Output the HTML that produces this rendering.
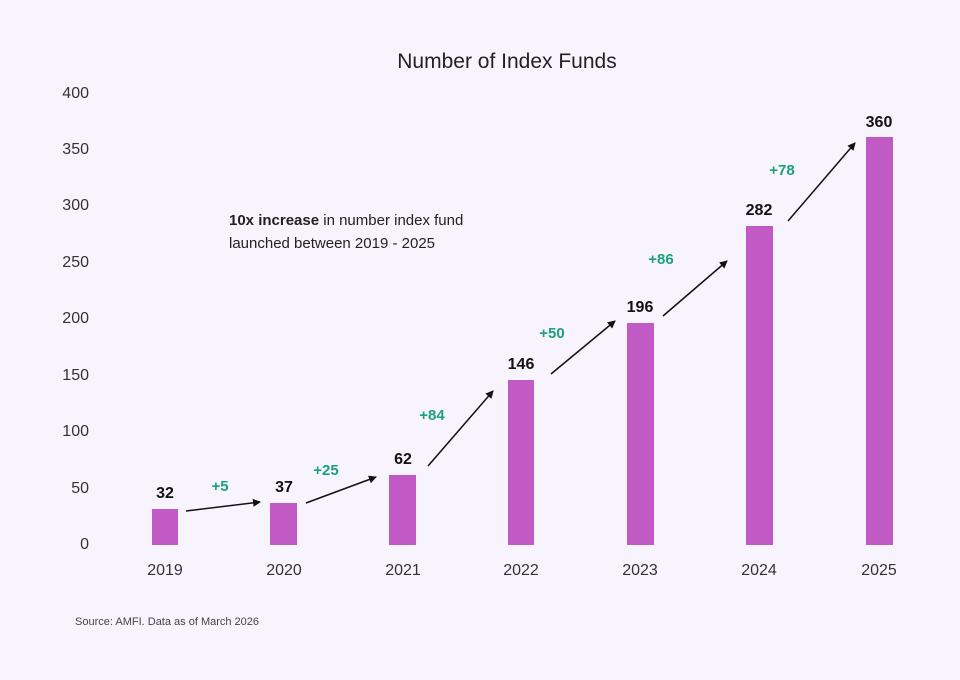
<!DOCTYPE html>
<html><head><meta charset="utf-8"><style>
body{margin:0;background:#f7f4fd;}
svg{display:block;font-family:"Liberation Sans",sans-serif;}
</style></head><body>
<svg width="960" height="680" viewBox="0 0 960 680">
<rect width="960" height="680" fill="#f7f4fd"/>
<defs><marker id="a" markerWidth="8" markerHeight="8" refX="7" refY="4" orient="auto" markerUnits="userSpaceOnUse"><path d="M0,0 L8,4 L0,8 z" fill="#111"/></marker></defs>
<text x="507" y="68" font-size="21" text-anchor="middle" fill="#222">Number of Index Funds</text>
<g font-size="16" fill="#333" text-anchor="end">
<text x="89" y="549">0</text><text x="89" y="493">50</text><text x="89" y="436">100</text><text x="89" y="380">150</text><text x="89" y="323">200</text><text x="89" y="267">250</text><text x="89" y="210">300</text><text x="89" y="154">350</text><text x="89" y="98">400</text>
</g>
<g fill="#c25ac6">
<rect x="152" y="509" width="26" height="36"/>
<rect x="270" y="503" width="27" height="42"/>
<rect x="389" y="475" width="27" height="70"/>
<rect x="508" y="380" width="26" height="165"/>
<rect x="627" y="323" width="27" height="222"/>
<rect x="746" y="226" width="27" height="319"/>
<rect x="866" y="137" width="27" height="408"/>
</g>
<g font-size="16" font-weight="bold" fill="#111" text-anchor="middle">
<text x="165" y="498">32</text><text x="284" y="492">37</text><text x="403" y="464">62</text><text x="521" y="369">146</text><text x="640" y="312">196</text><text x="759" y="215">282</text><text x="879" y="127">360</text>
</g>
<g font-size="16" fill="#333" text-anchor="middle">
<text x="165" y="575">2019</text><text x="284" y="575">2020</text><text x="403" y="575">2021</text><text x="521" y="575">2022</text><text x="640" y="575">2023</text><text x="759" y="575">2024</text><text x="879" y="575">2025</text>
</g>
<g font-size="15" font-weight="bold" fill="#1ba27a" text-anchor="middle">
<text x="220" y="491">+5</text><text x="326" y="475">+25</text><text x="432" y="420">+84</text><text x="552" y="338">+50</text><text x="661" y="264">+86</text><text x="782" y="175">+78</text>
</g>
<g stroke="#111" stroke-width="1.5" marker-end="url(#a)">
<line x1="186" y1="511" x2="260" y2="502"/>
<line x1="306" y1="503" x2="376" y2="477"/>
<line x1="428" y1="466" x2="493" y2="391"/>
<line x1="551" y1="374" x2="615" y2="321"/>
<line x1="663" y1="316" x2="727" y2="261"/>
<line x1="788" y1="221" x2="855" y2="143"/>
</g>
<text x="229" y="225" font-size="15" fill="#222"><tspan font-weight="bold">10x increase</tspan> in number index fund</text>
<text x="229" y="248" font-size="15" fill="#222">launched between 2019 - 2025</text>
<text x="75" y="625" font-size="11" fill="#444">Source: AMFI. Data as of March 2026</text>
</svg>
</body></html>
